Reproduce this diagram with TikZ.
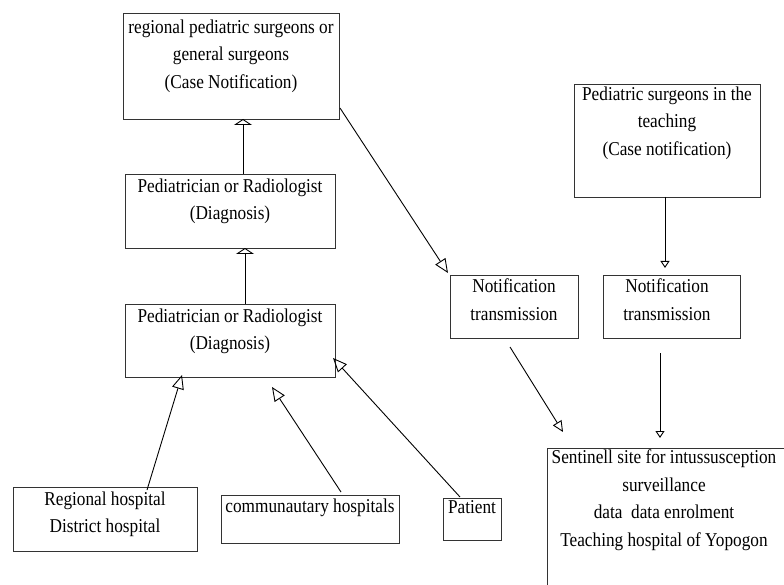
\documentclass[tikz,border=0pt]{standalone}
\usepackage{fontspec}
\setmainfont{Liberation Serif}[FakeStretch=0.88]
\usetikzlibrary{arrows.meta,calc}
\begin{document}
\begin{tikzpicture}[x=1pt,y=-1pt,
 box/.style={draw=black!80, line width=0.9pt, rectangle, inner sep=0pt, outer sep=0pt},
 txt/.style={anchor=north, inner sep=0pt, align=center, font=\fontsize{19.6}{27.5}\selectfont},
 conn/.style={draw=black, line width=0.9pt},
 flathead/.style={conn, -{Triangle[open, length=6pt, width=18pt]}},
 bighead/.style={conn, -{Triangle[open, length=14pt, width=12pt]}},
 midhead/.style={conn, -{Triangle[open, length=11pt, width=10pt]}},
 smallhead/.style={conn, -{Triangle[open, length=7pt, width=9pt]}},
]
\useasboundingbox (0,0) rectangle (784,585);

% boxes
\node[box, minimum width=216pt, minimum height=106pt] (A) at (231,66) {};
\node[box, minimum width=210pt, minimum height=74pt] (B) at (230,211) {};
\node[box, minimum width=210pt, minimum height=73pt] (C) at (230,340.5) {};
\node[box, minimum width=184pt, minimum height=64pt] (R) at (105,519) {};
\node[box, minimum width=178pt, minimum height=48pt] (Com) at (310,519) {};
\node[box, minimum width=58pt, minimum height=42pt] (Pat) at (472,519) {};
\node[box, minimum width=128pt, minimum height=63pt] (N1) at (514,306.5) {};
\node[box, minimum width=186pt, minimum height=113pt] (P) at (667,140.5) {};
\node[box, minimum width=137pt, minimum height=63pt] (N2) at (671.5,306.5) {};
\node[box, minimum width=253pt, minimum height=152pt] (S) at (673.5,524) {};

% texts
\node[txt] (tA) at (231,19.5) {regional pediatric surgeons or\\general surgeons\\(Case Notification)};
\node[txt] (tB) at (230,178.5) {Pediatrician or Radiologist\\(Diagnosis)};
\node[txt] (tC) at (230,308.5) {Pediatrician or Radiologist\\(Diagnosis)};
\node[txt] (tR) at (105,491.5) {Regional hospital\\District hospital};
\node[txt] (tCom) at (310,498.5) {communautary hospitals};
\node[txt] (tPat) at (472,500.5) {Patient};
\node[txt] (tN1) at (514,278.5) {Notification\\transmission};
\node[txt] (tP) at (667,86.5) {Pediatric surgeons in the\\teaching\\(Case notification)};
\node[txt] (tN2) at (667,278.5) {Notification\\transmission};
\node[txt] (tS) at (664,449.5) {Sentinell site for intussusception\\surveillance\\data\ \ data enrolment\\Teaching hospital of Yopogon};

% connectors
\draw[flathead] ($(B.north)+(13,0)$) -- ($(A.south)+(12,0)$);
\draw[flathead] ($(C.north)+(15,0)$) -- ($(B.south)+(15,0)$);
\draw[bighead] ($(R.north)+(42,3)$) -- ($(C.south)+(-48,-2)$);
\draw[bighead] ($(Com.north)+(31,-3)$) -- ($(C.south)+(42,10)$);
\draw[bighead] ($(Pat.north)+(-12,-1)$) -- ($(C.east)+(-2,17.5)$);
\draw[bighead] ($(A.east)+(1,42)$) -- ($(N1.north west)+(-2,-2)$);
\draw[midhead] ($(N1.south)+(-4,9)$) -- ($(S.north west)+(16,-16)$);
\draw[smallhead] ($(N2.south)+(-11.5,15)$) -- ($(S.north west)+(113,-10)$);
\draw[smallhead] ($(P.south)+(-2,0)$) -- ($(N2.north)+(-6.5,-7)$);
\end{tikzpicture}
\end{document}
